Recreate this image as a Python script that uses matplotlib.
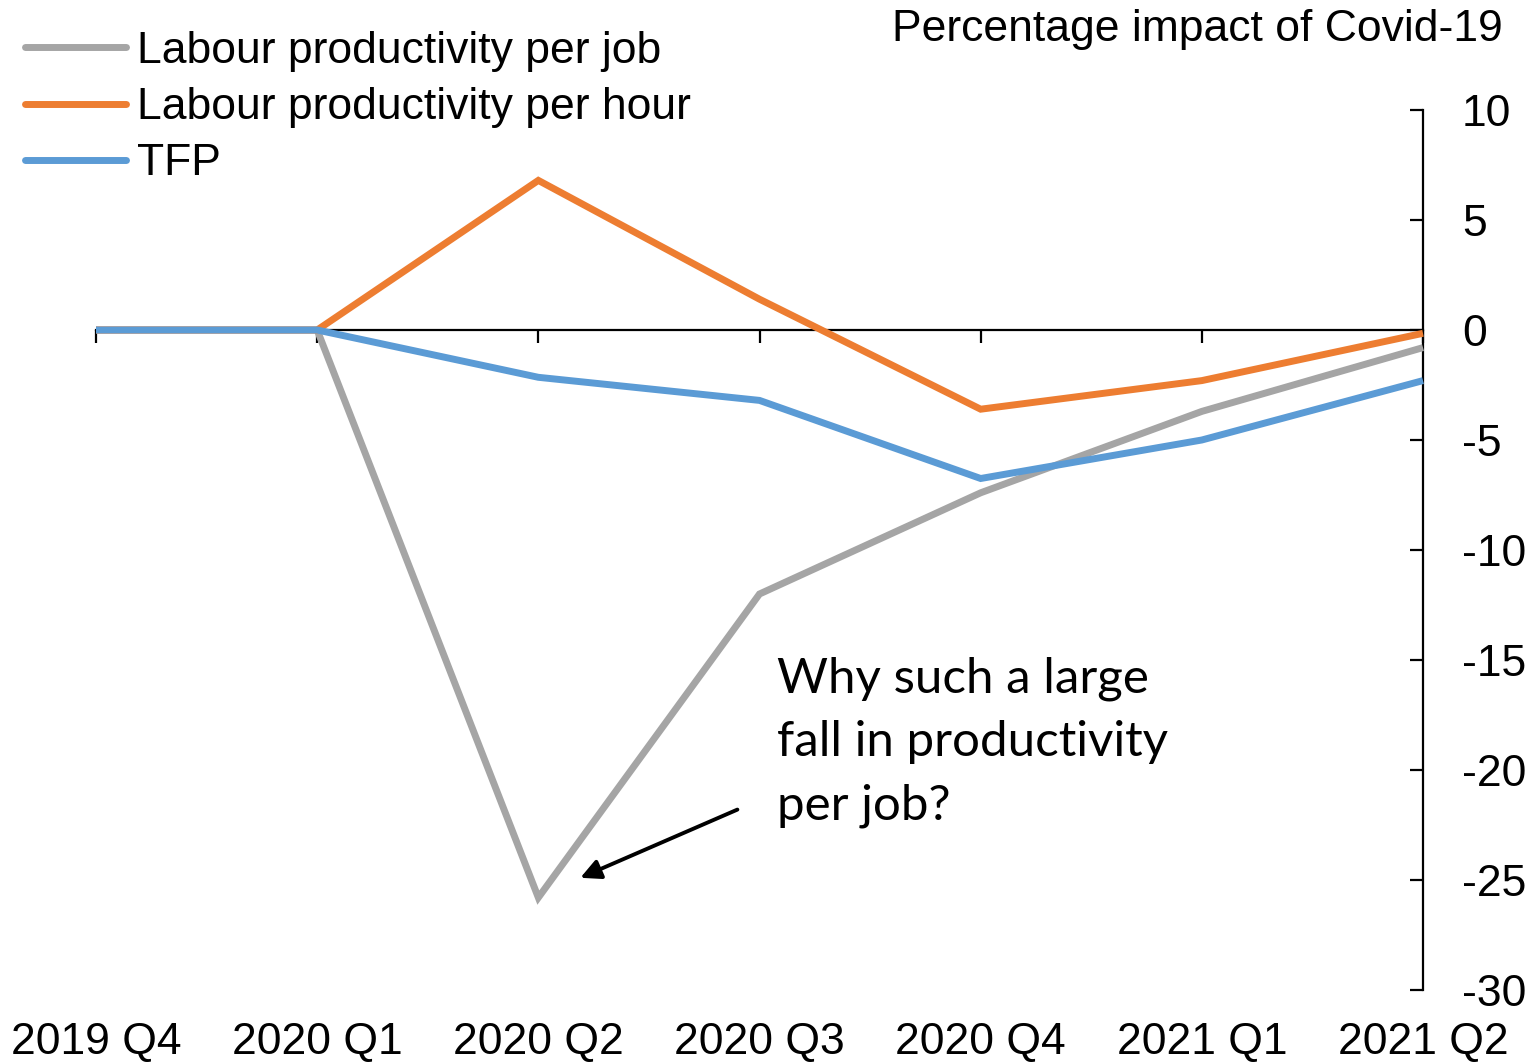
import matplotlib
matplotlib.use("Agg")
import matplotlib.pyplot as plt
from matplotlib.lines import Line2D
import matplotlib.transforms as mtransforms

# Quarterly impact of Covid-19 on productivity measures (%)
quarters = ["2019 Q4", "2020 Q1", "2020 Q2", "2020 Q3", "2020 Q4", "2021 Q1", "2021 Q2"]
per_job = [0.0, 0.0, -25.8, -12.0, -7.4, -3.7, -0.8]
per_hour = [0.0, 0.0, 6.8, 1.4, -3.6, -2.3, -0.15]
tfp = [0.0, 0.0, -2.15, -3.2, -6.75, -5.0, -2.3]

series_names = ["Labour productivity per job", "Labour productivity per hour", "TFP"]
series_colors = ["#A5A5A5", "#ED7D31", "#5B9BD5"]
y_ticks = [10, 5, 0, -5, -10, -15, -20, -25, -30]

plt.rcParams["font.family"] = ["Liberation Sans", "DejaVu Sans"]
FS = 32

fig = plt.figure(figsize=(15.32, 10.64), dpi=100)
W, H = 1532, 1064
ax = fig.add_axes([96 / W, 1 - 990 / H, (1423 - 96) / W, (990 - 110) / H])

x = list(range(len(quarters)))
for vals, color in zip([per_job, per_hour, tfp], series_colors):
    ax.plot(x, vals, color=color, lw=5, solid_capstyle="butt",
            solid_joinstyle="miter", clip_on=False, zorder=3)

ax.set_xlim(0, len(quarters) - 1)
ax.set_ylim(-30, 10)

# Spines: value axis on the right, category axis through zero
for side in ["left", "top"]:
    ax.spines[side].set_visible(False)
ax.spines["right"].set_linewidth(1.6)
ax.spines["bottom"].set_position(("data", 0))
ax.spines["bottom"].set_linewidth(1.6)
ax.spines["bottom"].set_zorder(2)

ax.yaxis.tick_right()
ax.set_yticks(y_ticks)
ax.set_yticklabels([str(v) for v in y_ticks])
ax.tick_params(axis="y", direction="in", length=9.5, width=1.6,
               labelsize=FS, pad=28)
for lbl in ax.get_yticklabels():
    lbl.set_horizontalalignment("left")

ax.set_xticks(x)
ax.tick_params(axis="x", direction="out", length=9, width=1.6,
               labelbottom=False)

# Category labels along the bottom of the figure
trans = mtransforms.blended_transform_factory(ax.transData, fig.transFigure)
for xi, q in zip(x, quarters):
    ax.text(xi, 1 - 1043 / H, q, transform=trans, ha="center", va="center",
            fontsize=FS, clip_on=False)

# Title
fig.text(1503 / W, 1 - 29 / H, "Percentage impact of Covid-19",
         ha="right", va="center", fontsize=FS)

# Legend
handles = [Line2D([0], [0], color=c, lw=5, solid_capstyle="round")
           for c in series_colors]
fig.legend(handles, series_names, loc="upper left",
           bbox_to_anchor=(25 / W, 1 - 31 / H), frameon=False,
           fontsize=FS, handlelength=2.28, handletextpad=0.25,
           labelspacing=0.34, borderpad=0, borderaxespad=0)

# Annotation with arrow pointing at the trough
ax.annotate("", xy=(2.19, -24.9), xytext=(2.9, -21.8),
            arrowprops=dict(arrowstyle="-|>", color="black", lw=2.8,
                            mutation_scale=30, shrinkA=0, shrinkB=0))
ax.text(3.08, -14.85, "Why such a large\nfall in productivity\nper job?",
        fontsize=35.5, family=["Lato", "DejaVu Sans"], ha="left", va="top",
        linespacing=1.53)

fig.savefig("out.png", dpi=100)
